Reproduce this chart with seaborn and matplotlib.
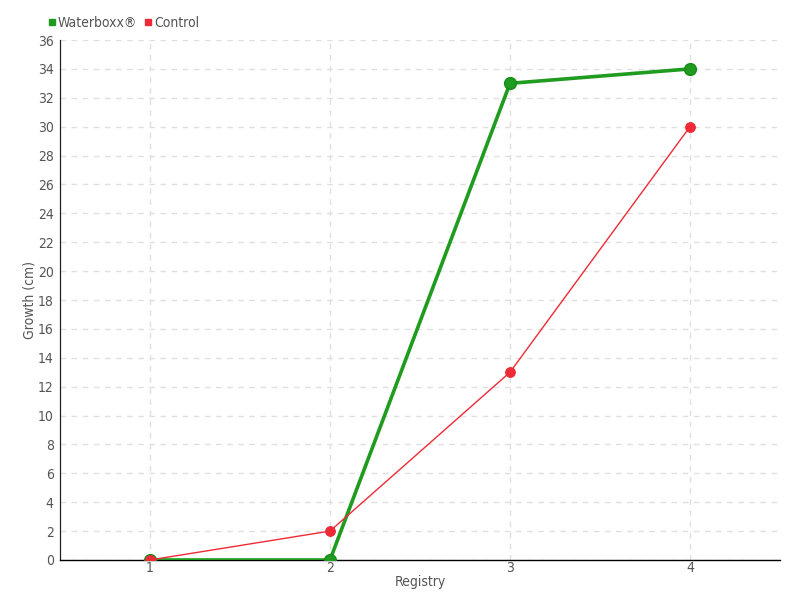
import matplotlib
matplotlib.use("Agg")
import matplotlib.pyplot as plt
import seaborn as sns
import pandas as pd
from matplotlib.lines import Line2D

registry = [1, 2, 3, 4]
waterboxx = [0, 0, 33, 34]
control = [0, 2, 13, 30]
y_ticks = list(range(0, 37, 2))

sns.set_theme(style="white")
plt.rcParams['font.family'] = ['DejaVu Sans']
plt.rcParams['font.stretch'] = 'condensed'

df = pd.DataFrame({"Registry": registry * 2,
                   "Growth": waterboxx + control,
                   "Series": ["Waterboxx®"] * 4 + ["Control"] * 4})

fig = plt.figure(figsize=(8, 6), dpi=100)
ax = fig.add_axes([0.075, 0.0667, 0.9, 0.8666])

green = "#1f9c1f"
red = "#ee2a36"
sns.lineplot(data=df[df.Series == "Waterboxx®"], x="Registry", y="Growth", ax=ax,
             color=green, linewidth=2.6, marker="o", markersize=8.5,
             markeredgecolor="#178a17", markeredgewidth=1, zorder=3)
sns.lineplot(data=df[df.Series == "Control"], x="Registry", y="Growth", ax=ax,
             color=red, linewidth=1, marker="o", markersize=7,
             markeredgecolor=red, zorder=4)

ax.set_xlim(0.5, 4.5)
ax.set_ylim(0, 36)
ax.set_xticks(registry)
ax.set_xticklabels([str(r) for r in registry])
ax.set_yticks(y_ticks)
ax.grid(True, linestyle=(0, (4, 4)), color="#e0e0e0", linewidth=1)
ax.set_axisbelow(True)
for s in ["top", "right"]:
    ax.spines[s].set_visible(False)
ax.spines["bottom"].set_color("black")
ax.spines["left"].set_color("#222222")
ax.spines["bottom"].set_linewidth(1)
ax.spines["left"].set_linewidth(0.9)
ax.tick_params(axis="both", colors="#555555", labelsize=10, width=0.9,
               labelcolor="#555555")
ax.tick_params(axis="x", length=0, pad=0.5)
ax.tick_params(axis="y", color="#222222", direction="inout", length=5, pad=2)
ax.set_xlabel("Registry", color="#555555", fontsize=10, labelpad=0)
ax.set_ylabel("Growth (cm)", color="#555555", fontsize=10)
ax.yaxis.set_label_coords(-0.032, 0.5)

handles = [Line2D([], [], marker="s", linestyle="", color=green, markersize=4.5),
           Line2D([], [], marker="s", linestyle="", color=red, markersize=4.5)]
ax.legend(handles, ["Waterboxx®", "Control"], loc="lower left",
          bbox_to_anchor=(-0.03, 1.0), ncol=2, frameon=False, fontsize=10,
          handlelength=0.5, handletextpad=0.2, columnspacing=0.5,
          borderaxespad=0.3, labelcolor="#555555")

fig.savefig("out.png", dpi=100)
